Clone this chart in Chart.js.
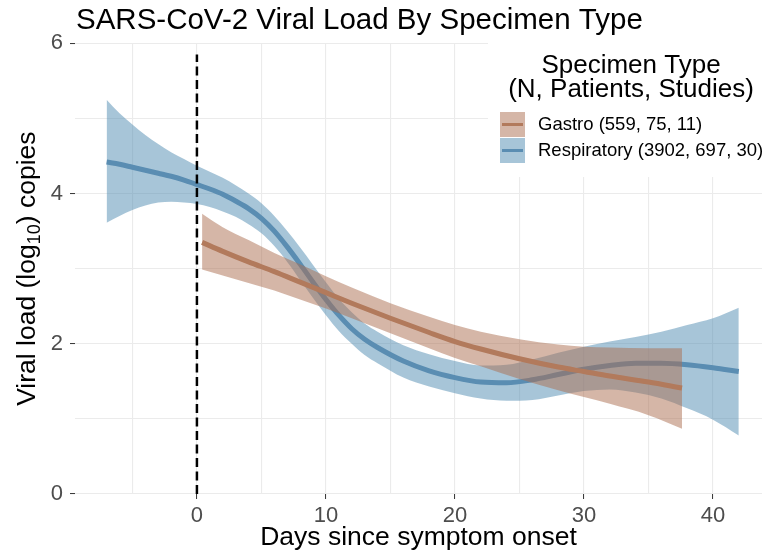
<!DOCTYPE html>
<html>
<head>
<meta charset="utf-8">
<script src="https://cdn.jsdelivr.net/npm/chart.js@4.4.0/dist/chart.umd.min.js"></script>
<style>
  body { margin: 0; background: #fff; }
  #wrap { width: 762px; height: 556px; }
</style>
</head>
<body>
<div id="wrap"><canvas id="myChart"></canvas></div>
<script>
'use strict';

// respiratory smooth + confidence band
let respDays = [-7, -6, -5, -4, -3, -2, -1, 0, 1, 2, 3, 4, 5, 6, 7, 8, 9, 10, 11, 12, 13, 14, 16, 18, 20, 22, 24, 26, 28, 30, 32, 34, 36, 38, 40, 42];
let respFit = [4.42, 4.39, 4.35, 4.31, 4.27, 4.23, 4.18, 4.12, 4.06, 3.99, 3.90, 3.80, 3.67, 3.50, 3.29, 3.06, 2.82, 2.59, 2.38, 2.20, 2.06, 1.95, 1.77, 1.64, 1.55, 1.49, 1.48, 1.52, 1.59, 1.66, 1.71, 1.74, 1.74, 1.72, 1.68, 1.63];
let respLow = [3.61, 3.70, 3.78, 3.84, 3.88, 3.89, 3.88, 3.86, 3.82, 3.76, 3.69, 3.59, 3.47, 3.30, 3.09, 2.85, 2.61, 2.38, 2.17, 2.00, 1.85, 1.74, 1.55, 1.43, 1.34, 1.27, 1.24, 1.25, 1.31, 1.37, 1.39, 1.35, 1.27, 1.14, 0.99, 0.78];
let respHigh = [5.25, 5.07, 4.92, 4.78, 4.66, 4.55, 4.46, 4.37, 4.29, 4.21, 4.11, 4.00, 3.87, 3.70, 3.50, 3.28, 3.05, 2.82, 2.60, 2.42, 2.27, 2.16, 1.98, 1.86, 1.77, 1.71, 1.72, 1.79, 1.88, 1.96, 2.03, 2.09, 2.16, 2.25, 2.34, 2.48];

// gastro smooth + confidence band
let gastroDays = [0.4, 2, 4, 6, 8, 10, 12, 15, 18, 20, 22, 25, 28, 30, 32, 35, 37.6];
let gastroFit = [3.35, 3.23, 3.09, 2.96, 2.82, 2.68, 2.54, 2.34, 2.15, 2.03, 1.93, 1.80, 1.69, 1.63, 1.57, 1.49, 1.41];
let gastroLow = [2.99, 2.91, 2.81, 2.71, 2.59, 2.47, 2.34, 2.14, 1.94, 1.81, 1.70, 1.53, 1.38, 1.29, 1.20, 1.05, 0.87];
let gastroHigh = [3.73, 3.55, 3.38, 3.21, 3.06, 2.90, 2.75, 2.54, 2.36, 2.25, 2.16, 2.06, 1.99, 1.96, 1.95, 1.94, 1.94];

let xTicks = [-5, 0, 5, 10, 15, 20, 25, 30, 35, 40];
let xTickLabels = [0, 10, 20, 30, 40];
let yTicks = [0, 1, 2, 3, 4, 5, 6];
let yTickLabels = [0, 2, 4, 6];
let onsetDay = 0;

let legendNames = ['Gastro (559, 75, 11)', 'Respiratory (3902, 697, 30)'];

const FONT = "'Liberation Sans', Arial, Helvetica, sans-serif";
Chart.defaults.font.family = FONT;

const blueLine = '#5a8db2';
const blueBand = 'rgba(80, 140, 178, 0.5)';
const brownLine = '#b27a5c';
const brownBand = 'rgba(172, 110, 80, 0.5)';

function toPoints(xs, ys) {
  let out = [];
  for (let i = 0; i < xs.length; i++) {
    out.push({ x: xs[i], y: ys[i] });
  }
  return out;
}

function bandEdge(xs, ys, fill, color, order) {
  return {
    data: toPoints(xs, ys),
    borderColor: 'rgba(0,0,0,0)',
    borderWidth: 0,
    pointRadius: 0,
    fill: fill,
    backgroundColor: color,
    cubicInterpolationMode: 'monotone',
    order: order
  };
}

// draws title, y title with subscript and the legend
const decorations = {
  id: 'decorations',
  beforeDatasetsDraw(chart) {
    let ctx = chart.ctx;
    ctx.save();
    ctx.fillStyle = '#ffffff';
    ctx.fillRect(488, 38, 274, 139);
    ctx.restore();
  },
  afterDraw(chart) {
    let ctx = chart.ctx;
    ctx.save();
    ctx.fillStyle = '#000';
    ctx.textBaseline = 'alphabetic';

    // main title
    ctx.font = '29.5px ' + FONT;
    ctx.textAlign = 'left';
    ctx.fillText('SARS-CoV-2 Viral Load By Specimen Type', 76, 29);

    // y axis title
    ctx.save();
    ctx.translate(35, (chart.chartArea.top + chart.chartArea.bottom) / 2);
    ctx.rotate(-Math.PI / 2);
    let big = '26.5px ' + FONT;
    let small = '18px ' + FONT;
    ctx.font = big;
    let w1 = ctx.measureText('Viral load (log').width;
    let w3 = ctx.measureText(') copies').width;
    ctx.font = small;
    let w2 = ctx.measureText('10').width;
    let x0 = -(w1 + w2 + w3) / 2;
    ctx.font = big;
    ctx.fillText('Viral load (log', x0, 0);
    ctx.font = small;
    ctx.fillText('10', x0 + w1, 5);
    ctx.font = big;
    ctx.fillText(') copies', x0 + w1 + w2, 0);
    ctx.restore();

    // legend
    ctx.textAlign = 'center';
    ctx.font = '26px ' + FONT;
    ctx.fillText('Specimen Type', 631, 73);
    ctx.fillText('(N, Patients, Studies)', 631, 97);

    let keys = [[brownBand, brownLine], [blueBand, blueLine]];
    for (let i = 0; i < keys.length; i++) {
      let top = 112 + i * 26;
      ctx.fillStyle = keys[i][0];
      ctx.fillRect(500, top, 25, 25);
      ctx.strokeStyle = keys[i][1];
      ctx.lineWidth = 3;
      ctx.beginPath();
      ctx.moveTo(502, top + 12.5);
      ctx.lineTo(523, top + 12.5);
      ctx.stroke();
      ctx.fillStyle = '#000';
      ctx.textAlign = 'left';
      ctx.textBaseline = 'middle';
      ctx.font = '18.5px ' + FONT;
      ctx.fillText(legendNames[i], 538, top + 13);
    }
    ctx.restore();
  }
};

let ctx = document.getElementById('myChart').getContext('2d');
let myChart = new Chart(ctx, {
  type: 'line',
  data: {
    datasets: [
      bandEdge(respDays, respHigh, '+1', blueBand, 6),
      bandEdge(respDays, respLow, false, blueBand, 6),
      {
        data: toPoints(respDays, respFit),
        borderColor: blueLine,
        borderWidth: 5,
        pointRadius: 0,
        fill: false,
        cubicInterpolationMode: 'monotone',
        order: 5
      },
      bandEdge(gastroDays, gastroHigh, '+1', brownBand, 4),
      bandEdge(gastroDays, gastroLow, false, brownBand, 4),
      {
        data: toPoints(gastroDays, gastroFit),
        borderColor: brownLine,
        borderWidth: 5,
        pointRadius: 0,
        fill: false,
        cubicInterpolationMode: 'monotone',
        order: 3
      },
      {
        data: [{ x: onsetDay, y: 0 }, { x: onsetDay, y: 5.85 }],
        borderColor: '#000',
        borderWidth: 2.5,
        borderDash: [9, 4.5],
        pointRadius: 0,
        fill: false,
        order: 1
      }
    ]
  },
  options: {
    responsive: true,
    maintainAspectRatio: false,
    animation: false,
    events: [],
    layout: { padding: { top: 43.3, right: 0, left: 0, bottom: 0 } },
    plugins: {
      legend: { display: false },
      title: { display: false },
      tooltip: { enabled: false }
    },
    scales: {
      x: {
        type: 'linear',
        min: -9.45,
        max: 43.8,
        afterBuildTicks: (s) => { s.ticks = xTicks.map(v => ({ value: v })); },
        afterFit: (s) => { s.height = 62; },
        ticks: {
          callback: (v) => xTickLabels.includes(v) ? String(v) : '',
          color: '#4d4d4d',
          font: { size: 22 },
          padding: 4,
          maxRotation: 0,
          autoSkip: false
        },
        grid: {
          color: '#ebebeb',
          lineWidth: 1.1,
          tickLength: 5,
          tickWidth: 1,
          tickColor: (c) => (c.tick && xTickLabels.includes(c.tick.value)) ? '#333333' : 'rgba(0,0,0,0)'
        },
        border: { display: false },
        title: {
          display: true,
          text: 'Days since symptom onset',
          color: '#000',
          font: { size: 26.5, lineHeight: 1 },
          padding: { top: 0, bottom: 5 }
        }
      },
      y: {
        min: 0,
        max: 6,
        afterBuildTicks: (s) => { s.ticks = yTicks.map(v => ({ value: v })); },
        afterFit: (s) => { s.width = 75; },
        ticks: {
          callback: (v) => yTickLabels.includes(v) ? String(v) : '',
          color: '#4d4d4d',
          font: { size: 22 },
          padding: 7,
          autoSkip: false
        },
        grid: {
          color: '#ebebeb',
          lineWidth: 1.1,
          tickLength: 5,
          tickWidth: 1,
          tickColor: (c) => (c.tick && yTickLabels.includes(c.tick.value)) ? '#333333' : 'rgba(0,0,0,0)'
        },
        border: { display: false }
      }
    }
  },
  plugins: [decorations]
});
</script>
</body>
</html>
